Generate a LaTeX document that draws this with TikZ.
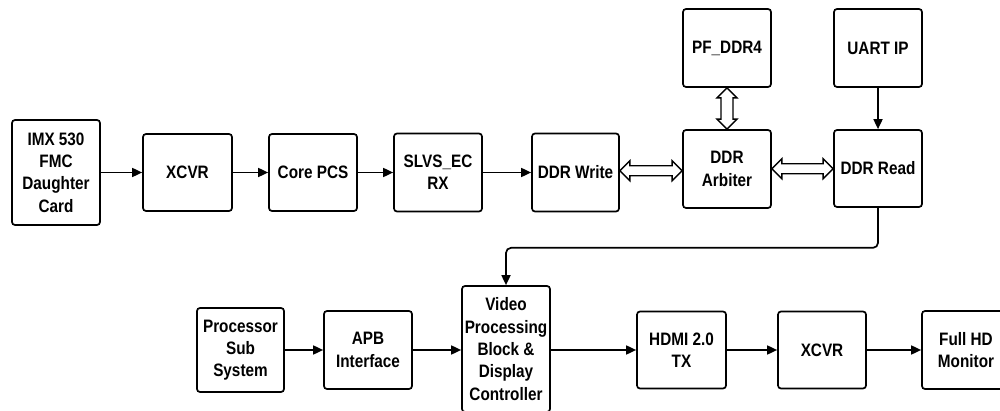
\documentclass[tikz,border=0pt]{standalone}
\usepackage{fontspec}
\setmainfont{Liberation Sans}[FakeStretch=0.85]
\usetikzlibrary{arrows.meta,calc}
\tikzset{
  box/.style={draw, line width=1.7pt, rounded corners=3pt, align=center, inner sep=1pt,
    font=\fontsize{18}{22.3}\selectfont\bfseries},
  conn/.style={line width=1.7pt, -{Triangle[length=10pt,width=9pt]}},
  hollow/.style={draw, line width=1.4pt, fill=white, line join=miter},
}
\newcommand\hollowH[2]{\path[hollow] let \p1=(#1.east), \p2=(#2.west), \n1={(\y1+\y2)/2} in
  (\x1,\n1) -- (\x1+10pt,\n1+10pt) -- (\x1+10pt,\n1+5pt) -- (\x2-10pt,\n1+5pt) -- (\x2-10pt,\n1+10pt)
  -- (\x2,\n1) -- (\x2-10pt,\n1-10pt) -- (\x2-10pt,\n1-5pt) -- (\x1+10pt,\n1-5pt) -- (\x1+10pt,\n1-10pt) -- cycle;}
\newcommand\hollowV[2]{\path[hollow] let \p1=(#1.south), \p2=(#2.north), \n1={(\x1+\x2)/2} in
  (\n1,\y1) -- (\n1+10pt,\y1-10pt) -- (\n1+6pt,\y1-10pt) -- (\n1+6pt,\y2+10pt) -- (\n1+10pt,\y2+10pt)
  -- (\n1,\y2) -- (\n1-10pt,\y2+10pt) -- (\n1-6pt,\y2+10pt) -- (\n1-6pt,\y1-10pt) -- (\n1-10pt,\y1-10pt) -- cycle;}
\begin{document}
\begin{tikzpicture}[x=1pt,y=-1pt]
\useasboundingbox (0,0) rectangle (1000,411);
% row 1
\node[box, minimum width=88pt, minimum height=105pt] (imx) at (56,172.5) {IMX 530\\FMC\\Daughter\\Card};
\node[box, minimum width=89pt, minimum height=77pt] (xcvra) at (187.5,172.5) {XCVR};
\node[box, minimum width=88pt, minimum height=77pt] (core) at (313,172.5) {Core PCS};
\node[box, minimum width=88pt, minimum height=78pt] (slvs) at (438,172.5) {SLVS\_EC\\RX};
\node[box, minimum width=87pt, minimum height=78pt] (write) at (575.5,172.5) {DDR Write};
\node[box, minimum width=88pt, minimum height=78pt] (pf) at (727,48) {PF\_DDR4};
\node[box, minimum width=88pt, minimum height=78pt] (arb) at (727,169) {DDR\\Arbiter};
\node[box, minimum width=88pt, minimum height=78pt] (uart) at (878,48) {UART IP};
\node[box, minimum width=88pt, minimum height=77pt] (read) at (878,168.5) {DDR Read};
% row 2
\node[box, minimum width=87pt, minimum height=84pt] (proc) at (240.5,350) {Processor\\Sub\\System};
\node[box, minimum width=88pt, minimum height=78pt] (apb) at (368,350) {APB\\Interface};
\node[box, minimum width=88pt, minimum height=126pt] (video) at (506,349) {Video\\Processing\\Block \&\\Display\\Controller};
\node[box, minimum width=89pt, minimum height=77pt] (hdmi) at (681.5,350) {HDMI 2.0\\TX};
\node[box, minimum width=88pt, minimum height=77pt] (xcvrb) at (822,350) {XCVR};
\node[box, minimum width=88pt, minimum height=78pt] (mon) at (966,350) {Full HD\\Monitor};
% connectors
\draw[conn] (imx) -- (xcvra);
\draw[conn] (xcvra) -- (core);
\draw[conn] (core) -- (slvs);
\draw[conn] (slvs) -- (write);
\hollowH{write}{arb}
\hollowH{arb}{read}
\hollowV{pf}{arb}
\draw[conn] (uart) -- (read);
\draw[conn, rounded corners=5pt] (read.south) -- ++(0,40) -| (video.north);
\draw[conn] (proc) -- (apb);
\draw[conn] (apb) -- (video.west |- apb.east);
\draw[conn] (video.east |- hdmi.west) -- (hdmi);
\draw[conn] (hdmi) -- (xcvrb);
\draw[conn] (xcvrb) -- (mon);
\end{tikzpicture}
\end{document}
